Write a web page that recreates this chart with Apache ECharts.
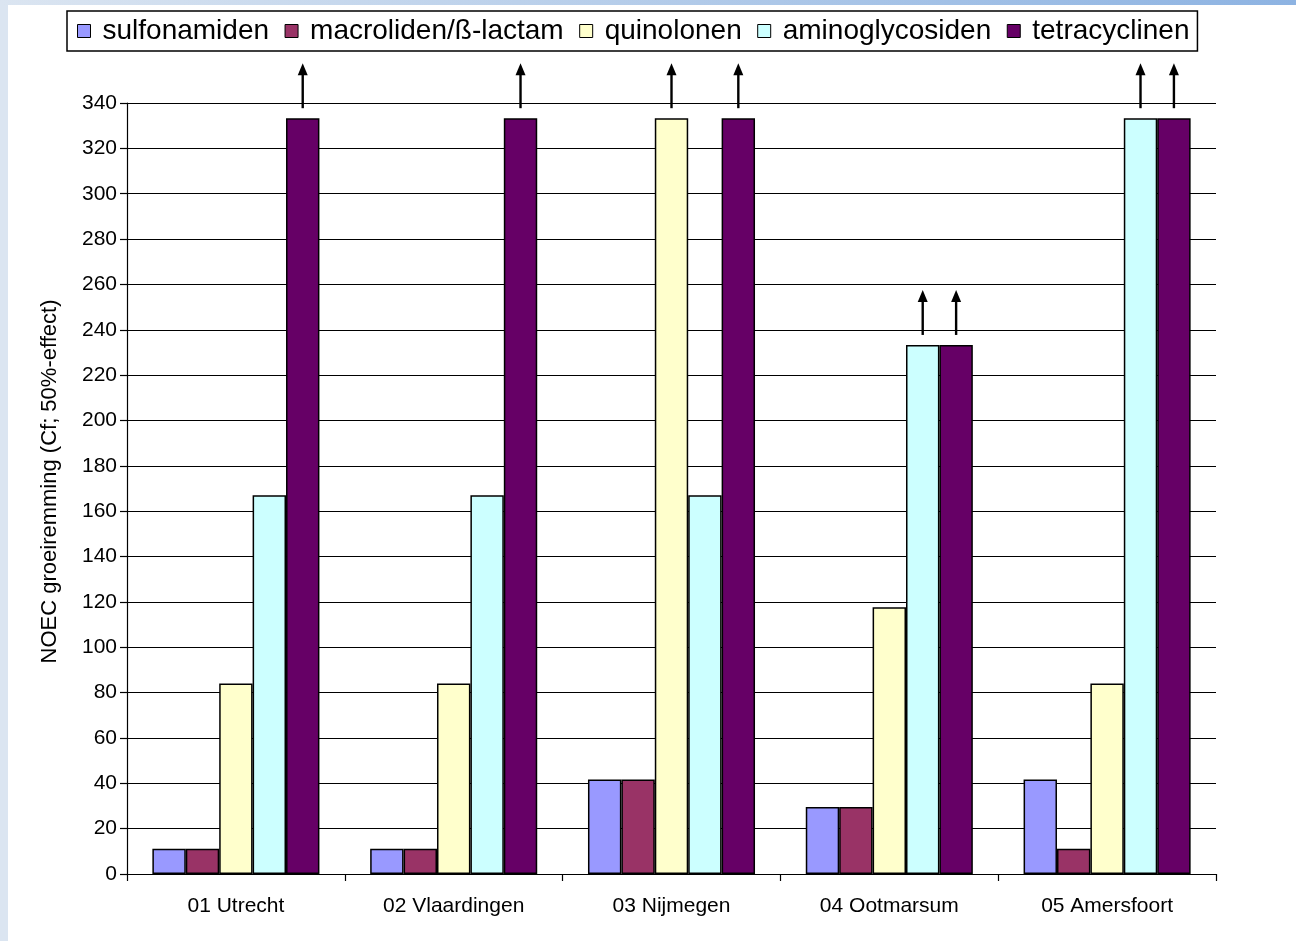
<!DOCTYPE html>
<html>
<head>
<meta charset="utf-8">
<title>NOEC groeiremming</title>
<script src="https://cdn.jsdelivr.net/npm/echarts@6/dist/echarts.min.js"></script>
<style>
  html, body { margin: 0; padding: 0; background: #ffffff; }
  #chart { width: 1296px; height: 941px; }
</style>
</head>
<body>
<div id="chart"></div>
<script>
// Sampling locations
const categories = ['01 Utrecht', '02 Vlaardingen', '03 Nijmegen', '04 Ootmarsum', '05 Amersfoort'];

// NOEC values per antibiotic class (Cf; 50%-effect)
const sulfonamiden    = [11.1, 11.1, 41.7, 29.6, 41.7];
const macroliden      = [11.1, 11.1, 41.7, 29.6, 11.1];
const quinolonen      = [84, 84, 333.3, 117.6, 84];
const aminoglycosiden = [167, 167, 167, 233.3, 333.3];
const tetracyclinen   = [333.3, 333.3, 333.3, 233.3, 333.3];

const seriesNames = ['sulfonamiden', 'macroliden/ß-lactam', 'quinolonen', 'aminoglycosiden', 'tetracyclinen'];
const seriesValues = [sulfonamiden, macroliden, quinolonen, aminoglycosiden, tetracyclinen];
const seriesColors = ['#9999ff', '#993366', '#ffffcc', '#ccffff', '#660066'];

// Bars whose value is only a lower bound: [location index, class index]
const lowerBounds = [[0, 4], [1, 4], [2, 2], [2, 4], [3, 3], [3, 4], [4, 3], [4, 4]];

const yTicks = { min: 0, max: 340, interval: 20 };
const CATEGORY_GAP = 0.233;

const FONT = '"Liberation Sans", Arial, sans-serif';

const chart = echarts.init(document.getElementById('chart'), null, { renderer: 'canvas' });

const barSeries = seriesNames.map((name, i) => ({
  name: name,
  type: 'bar',
  data: seriesValues[i],
  barGap: '0%',
  barCategoryGap: (CATEGORY_GAP * 100) + '%',
  itemStyle: { color: seriesColors[i], borderColor: '#000', borderWidth: 1.5 },
  emphasis: { disabled: true },
  animation: false
}));

// Upward arrows above lower-bound bars, positioned via the axis scales
const arrowSeries = {
  type: 'custom',
  coordinateSystem: 'cartesian2d',
  clip: false,
  silent: true,
  animation: false,
  encode: { x: 0, y: 2 },
  data: lowerBounds.map(([c, s]) => [c, s, seriesValues[s][c]]),
  renderItem: function (params, api) {
    const cat = api.value(0);
    const s = api.value(1);
    const v = api.value(2);
    const pt = api.coord([cat, v]);
    const band = api.size([1, 0])[0];
    const groupW = band * (1 - CATEGORY_GAP);
    const bw = groupW / seriesNames.length;
    const x = pt[0] - groupW / 2 + (s + 0.5) * bw;
    const yBase = pt[1] - 10;
    const yTip = pt[1] - 55;
    return {
      type: 'group',
      children: [
        {
          type: 'line',
          shape: { x1: x, y1: yBase, x2: x, y2: yTip + 8 },
          style: { stroke: '#000', lineWidth: 2.4 }
        },
        {
          type: 'polygon',
          shape: { points: [[x, yTip], [x - 5, yTip + 12], [x + 5, yTip + 12]] },
          style: { fill: '#000' }
        }
      ]
    };
  }
};

chart.setOption({
  backgroundColor: '#ffffff',
  animation: false,
  textStyle: { fontFamily: FONT, color: '#000' },
  graphic: [
    { type: 'rect', left: 0, top: 0, shape: { width: 8, height: 941 }, style: { fill: '#dbe5f1' }, z: -10 },
    {
      type: 'rect', left: 0, top: 0, shape: { width: 1296, height: 5 }, z: -10,
      style: {
        fill: new echarts.graphic.LinearGradient(0, 0, 1, 0, [
          { offset: 0, color: '#dbe5f1' },
          { offset: 1, color: '#8db3e2' }
        ])
      }
    }
  ],
  legend: {
    data: seriesNames,
    left: 67,
    top: 11,
    orient: 'horizontal',
    icon: 'rect',
    itemWidth: 13,
    itemHeight: 13,
    itemGap: 15.5,
    padding: [6, 8, 6, 10],
    borderColor: '#000',
    borderWidth: 1.5,
    backgroundColor: '#fff',
    selectedMode: false,
    itemStyle: { borderColor: '#000', borderWidth: 1 },
    textStyle: { fontFamily: FONT, fontSize: 28, color: '#000', padding: [0, 0, 0, 7], lineHeight: 28 }
  },
  grid: { left: 127, top: 103, right: 80, bottom: 67, containLabel: false },
  xAxis: {
    type: 'category',
    data: categories,
    boundaryGap: true,
    axisLine: { show: true, lineStyle: { color: '#000', width: 1.2 } },
    axisTick: { show: true, alignWithLabel: false, length: 7, lineStyle: { color: '#000', width: 1.2 } },
    axisLabel: { fontFamily: FONT, fontSize: 21, color: '#000', margin: 22 },
    splitLine: { show: false }
  },
  yAxis: {
    type: 'value',
    min: yTicks.min,
    max: yTicks.max,
    interval: yTicks.interval,
    name: 'NOEC groeiremming (Cf; 50%-effect)',
    nameLocation: 'middle',
    nameGap: 66,
    nameTextStyle: { fontFamily: FONT, fontSize: 22, color: '#000', padding: [0, 0, 0, 14] },
    axisLine: { show: true, lineStyle: { color: '#000', width: 1.2 } },
    axisTick: { show: true, inside: false, length: 7, lineStyle: { color: '#000', width: 1.2 } },
    axisLabel: { fontFamily: FONT, fontSize: 21, color: '#000', margin: 10 },
    splitLine: { show: true, lineStyle: { color: '#000', width: 1.2 } }
  },
  series: barSeries.concat([arrowSeries])
});
</script>
</body>
</html>
